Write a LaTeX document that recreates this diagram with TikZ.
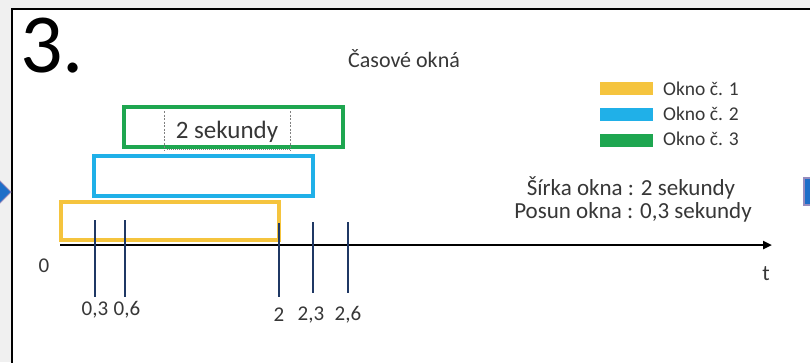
\documentclass[tikz,border=0pt]{standalone}
\usepackage{fontspec}
\setmainfont{Carlito}
\usetikzlibrary{arrows.meta}

\definecolor{pagegray}{RGB}{240,240,240}
\definecolor{winyellow}{RGB}{245,196,62}
\definecolor{winblue}{RGB}{32,176,232}
\definecolor{wingreen}{RGB}{30,166,80}
\definecolor{ticknavy}{RGB}{31,56,100}
\definecolor{txtgray}{RGB}{55,55,55}
\definecolor{navblue}{RGB}{30,110,200}
\definecolor{navedge}{RGB}{150,140,190}

\tikzset{
  window/.style={draw=#1, line width=3.5pt},
  legendbar/.style={fill=#1, draw=none},
  tickline/.style={draw=ticknavy, line width=2.2pt},
  lbl/.style={inner sep=0pt, text=txtgray, font=\fontsize{#1}{#1}\selectfont},
  guide/.style={draw=gray, line width=0.8pt, dash pattern=on 2pt off 1.5pt},
}

\begin{document}
\begin{tikzpicture}[x=1pt,y=-1pt]
\useasboundingbox (0,0) rectangle (810,362);

% page background and the framed panel
\fill[pagegray] (0,0) rectangle (810,362);
\fill[white] (12,9) rectangle (812,364);
\draw[black, line width=2.2pt] (12,364) -- (12,9) -- (812,9);

% navigation marks at the sides
\filldraw[fill=navblue, draw=navedge, line width=1pt]
  (-3,178) -- (11,192) -- (-3,206) -- cycle;
\filldraw[fill=navblue, draw=navedge, line width=1.5pt]
  (804,178) rectangle (814,205);

% slide number and title
\node[inner sep=0pt, anchor=base west, font=\fontsize{84}{84}\selectfont] (num) at (20,72) {3.};
\node[lbl=22, anchor=base] (title) at (404,67) {Časové okná};

% the three time windows
\draw[window=winyellow] (61,202) rectangle (279,240);
\draw[window=winblue]   (94,156) rectangle (313,196);
\draw[window=wingreen]  (124,107) rectangle (343,147);

% width marker inside window 3
\coordinate (wl) at (164,111);
\coordinate (wr) at (290,111);
\draw[guide] (wl) -- (164,150);
\draw[guide] (wr) -- (290,150);
\draw[guide, dash pattern=on 1pt off 1pt] (167,149) -- (290,149);
\node[lbl=25, anchor=base] (width) at (227,138) {2 sekundy};

% time axis
\coordinate (a0) at (60,245);
\coordinate (a1) at (772,245);
\draw[black, line width=2.6pt, -{Triangle[length=9pt,width=8pt]}] (a0) -- (a1);
\node[lbl=21, anchor=base] (zero) at (44,272) {0};
\node[lbl=22, anchor=base] (t) at (766,280) {t};

% window boundaries on the axis
\foreach \name/\x/\top/\bot in {p03/95/220/297, p06/125/220/297, p20/279/223/297, p23/313/222/293, p26/348/222/293}{
  \coordinate (\name-top) at (\x,\top);
  \coordinate (\name-bot) at (\x,\bot);
  \draw[tickline] (\name-top) -- (\name-bot);
}
\node[lbl=21, anchor=base] (l03) at (95,315) {0,3};
\node[lbl=21, anchor=base] (l06) at (127,315) {0,6};
\node[lbl=21, anchor=base] (l20) at (279,321) {2};
\node[lbl=21, anchor=base] (l23) at (311,320) {2,3};
\node[lbl=21, anchor=base] (l26) at (348,320) {2,6};

% legend
\fill[legendbar=winyellow] (600,82) rectangle (653,95);
\fill[legendbar=winblue]   (600,108) rectangle (653,121);
\fill[legendbar=wingreen]  (600,134) rectangle (653,147);
\node[lbl=19.5, anchor=base west] (k1) at (663,95) {Okno č. 1};
\node[lbl=19.5, anchor=base west] (k2) at (663,120) {Okno č. 2};
\node[lbl=19.5, anchor=base west] (k3) at (663,145) {Okno č. 3};

% parameters
\node[lbl=23, anchor=base] (wdt) at (631,195) {Šírka okna : 2 sekundy};
\node[lbl=23, anchor=base] (shift) at (633,218) {Posun okna : 0,3 sekundy};
\end{tikzpicture}
\end{document}
